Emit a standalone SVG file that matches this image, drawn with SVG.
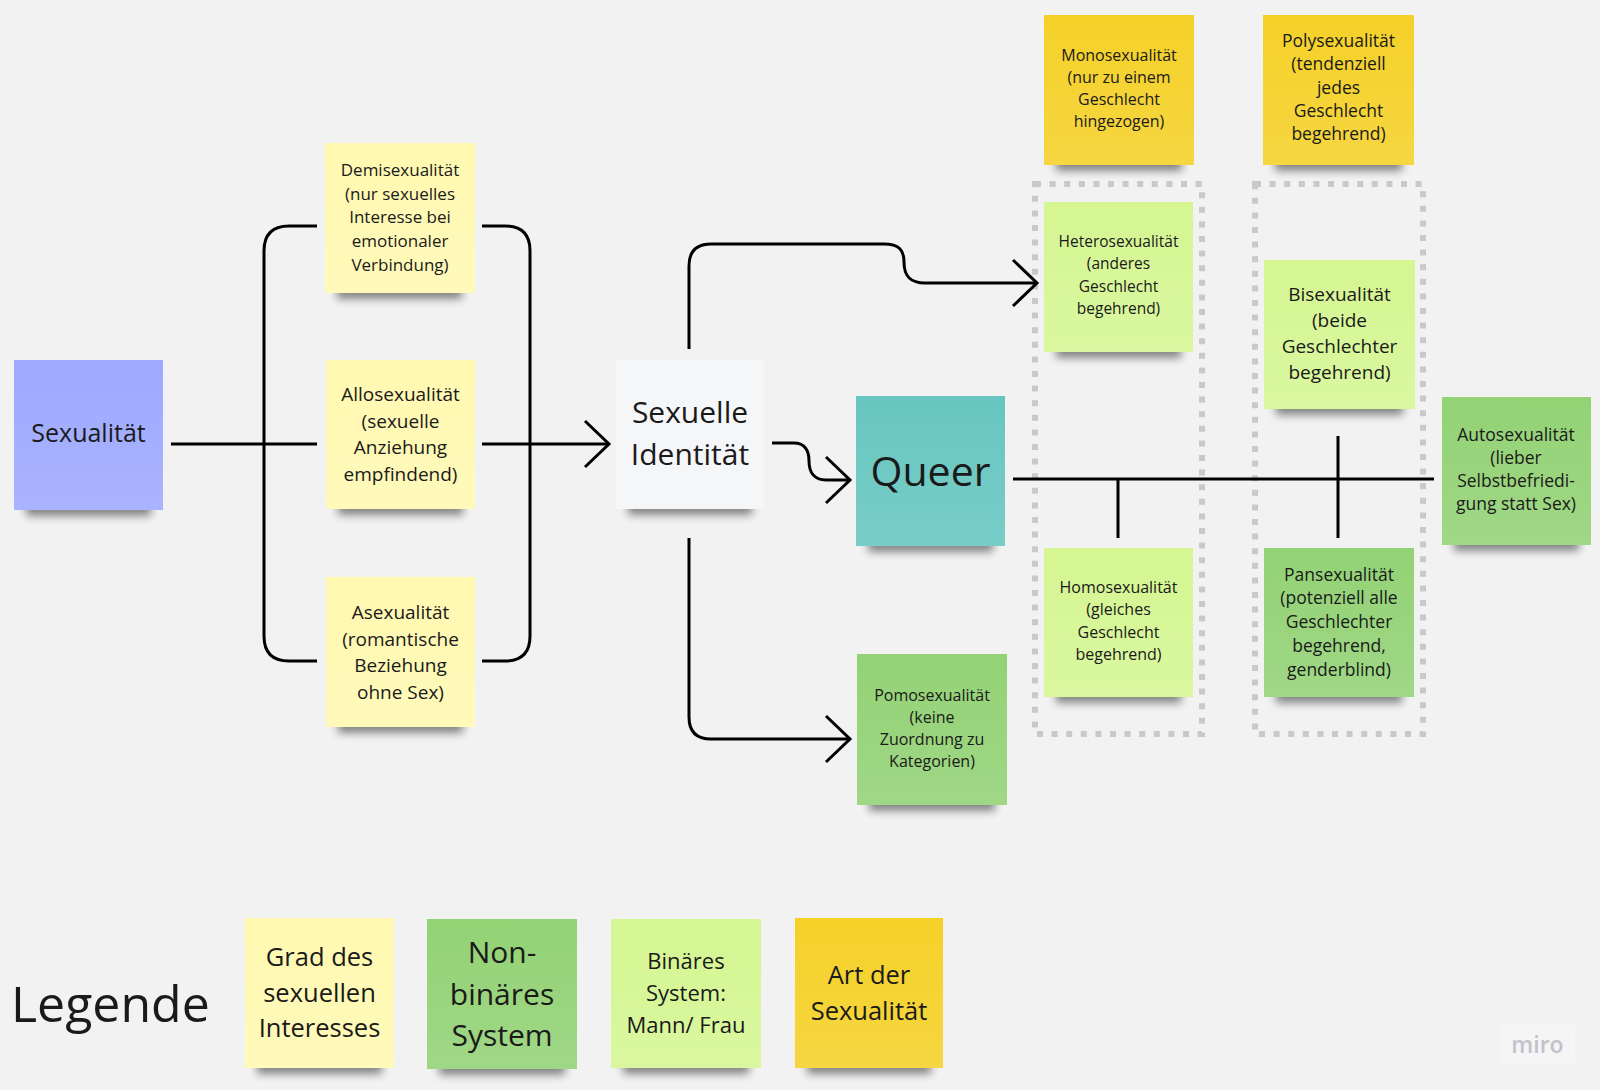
<svg xmlns="http://www.w3.org/2000/svg" width="1600" height="1090" viewBox="0 0 1600 1090">
<defs>
<filter id="blur" x="-20%" y="-100%" width="140%" height="300%"><feGaussianBlur stdDeviation="4"/></filter>
<linearGradient id="sheen" x1="0" y1="0" x2="0" y2="1"><stop offset="0" stop-color="#fff" stop-opacity="0"/><stop offset="1" stop-color="#fff" stop-opacity="0.12"/></linearGradient>
<marker id="arr" viewBox="0 0 30 50" refX="27" refY="25" markerWidth="30" markerHeight="50" markerUnits="userSpaceOnUse" orient="auto"><path d="M3,2 L27,25 L3,48" fill="none" stroke="#000" stroke-width="3"/></marker>
<style>
text{font-family:"Open Sans","Noto Sans","Liberation Sans",sans-serif;fill:#1a1a1a;text-anchor:middle}
.sh{fill:#000;opacity:0.45;filter:url(#blur)}
.gl{fill:url(#sheen)}
.ly{fill:#fff9b1}.yl{fill:#f5d128}.lg{fill:#d5f692}.dg{fill:#93d275}.db{fill:#9ea9ff}.gr{fill:#f5f6f8}.cy{fill:#67c6c0}
.c{fill:none;stroke:#000;stroke-width:3}
.dot{fill:none;stroke:#c9c9c9;stroke-width:6;stroke-dasharray:6 8.6}
</style>
</defs>
<rect width="1600" height="1090" fill="#f2f2f2"/>

<g id="containers">
<rect class="dot" x="1035" y="184" width="167" height="550"/>
<rect class="dot" x="1255" y="184" width="168" height="550"/>
</g>

<g id="connectors">
<path class="c" d="M171,444 H317"/>
<path class="c" d="M317,226 H289 Q264,226 264,251 V636 Q264,661 289,661 H317"/>
<path class="c" d="M482,226 H505 Q530,226 530,251 V636 Q530,661 505,661 H482"/>
<path class="c" d="M482,444 H609" marker-end="url(#arr)"/>
<path class="c" d="M689,349 V266 Q689,244 711,244 H884 C899,244 904,250 904,262 C904,276 910,283 925,283 H1037" marker-end="url(#arr)"/>
<path class="c" d="M772,443 H794 C805,443 809,451 809,461 C809,472 814,480 826,480 H850" marker-end="url(#arr)"/>
<path class="c" d="M689,538 V717 Q689,739 711,739 H850" marker-end="url(#arr)"/>
<path class="c" d="M1013,479 H1434"/>
<path class="c" d="M1118,479 V538"/>
<path class="c" d="M1338,436 V538"/>
</g>

<g id="sexualitaet">
<rect class="sh" x="26" y="498" width="125" height="18"/>
<rect class="db" x="14" y="360" width="149" height="150"/><rect class="gl" x="14" y="360" width="149" height="150"/>
<text x="88.5" y="442" font-size="25">Sexualität</text>
</g>

<g id="demisexualitaet">
<rect class="sh" x="337" y="281" width="125" height="18"/>
<rect class="ly" x="325" y="143" width="150" height="150"/><rect class="gl" x="325" y="143" width="150" height="150"/>
<text font-size="17"><tspan x="400" y="176">Demisexualität</tspan><tspan x="400" y="199.7">(nur sexuelles</tspan><tspan x="400" y="223.4">Interesse bei</tspan><tspan x="400" y="247.1">emotionaler</tspan><tspan x="400" y="270.8">Verbindung)</tspan></text>
</g>

<g id="allosexualitaet">
<rect class="sh" x="338" y="497" width="125" height="18"/>
<rect class="ly" x="326" y="360" width="149" height="149"/><rect class="gl" x="326" y="360" width="149" height="149"/>
<text font-size="19"><tspan x="400.5" y="401">Allosexualität</tspan><tspan x="400.5" y="427.5">(sexuelle</tspan><tspan x="400.5" y="454">Anziehung</tspan><tspan x="400.5" y="480.5">empfindend)</tspan></text>
</g>

<g id="asexualitaet">
<rect class="sh" x="338" y="715" width="125" height="18"/>
<rect class="ly" x="326" y="577" width="149" height="150"/><rect class="gl" x="326" y="577" width="149" height="150"/>
<text font-size="19"><tspan x="400.5" y="619">Asexualität</tspan><tspan x="400.5" y="645.5">(romantische</tspan><tspan x="400.5" y="672">Beziehung</tspan><tspan x="400.5" y="698.5">ohne Sex)</tspan></text>
</g>

<g id="sexuelle-identitaet">
<rect class="sh" x="628" y="497" width="124" height="18"/>
<rect class="gr" x="616" y="360" width="148" height="149"/>
<text font-size="30"><tspan x="690" y="423">Sexuelle</tspan><tspan x="690" y="465">Identität</tspan></text>
</g>

<g id="queer">
<rect class="sh" x="868" y="534" width="125" height="18"/>
<rect class="cy" x="856" y="396" width="149" height="150"/><rect class="gl" x="856" y="396" width="149" height="150"/>
<text x="930.5" y="486" font-size="41">Queer</text>
</g>

<g id="pomosexualitaet">
<rect class="sh" x="869" y="793" width="126" height="18"/>
<rect class="dg" x="857" y="654" width="150" height="151"/><rect class="gl" x="857" y="654" width="150" height="151"/>
<text font-size="16"><tspan x="932" y="701">Pomosexualität</tspan><tspan x="932" y="723">(keine</tspan><tspan x="932" y="745">Zuordnung zu</tspan><tspan x="932" y="767">Kategorien)</tspan></text>
</g>

<g id="monosexualitaet">
<rect class="sh" x="1056" y="153" width="126" height="18"/>
<rect class="yl" x="1044" y="15" width="150" height="150"/><rect class="gl" x="1044" y="15" width="150" height="150"/>
<text font-size="16"><tspan x="1119" y="60.5">Monosexualität</tspan><tspan x="1119" y="82.8">(nur zu einem</tspan><tspan x="1119" y="105.1">Geschlecht</tspan><tspan x="1119" y="127.4">hingezogen)</tspan></text>
</g>

<g id="polysexualitaet">
<rect class="sh" x="1275" y="153" width="127" height="18"/>
<rect class="yl" x="1263" y="15" width="151" height="150"/><rect class="gl" x="1263" y="15" width="151" height="150"/>
<text font-size="17.5"><tspan x="1338.5" y="47">Polysexualität</tspan><tspan x="1338.5" y="70.3">(tendenziell</tspan><tspan x="1338.5" y="93.6">jedes</tspan><tspan x="1338.5" y="116.9">Geschlecht</tspan><tspan x="1338.5" y="140.2">begehrend)</tspan></text>
</g>

<g id="heterosexualitaet">
<rect class="sh" x="1056" y="340" width="125" height="18"/>
<rect class="lg" x="1044" y="202" width="149" height="150"/><rect class="gl" x="1044" y="202" width="149" height="150"/>
<text font-size="15.5"><tspan x="1118.5" y="247">Heterosexualität</tspan><tspan x="1118.5" y="269.3">(anderes</tspan><tspan x="1118.5" y="291.6">Geschlecht</tspan><tspan x="1118.5" y="313.9">begehrend)</tspan></text>
</g>

<g id="bisexualitaet">
<rect class="sh" x="1276" y="397" width="127" height="18"/>
<rect class="lg" x="1264" y="260" width="151" height="149"/><rect class="gl" x="1264" y="260" width="151" height="149"/>
<text font-size="19"><tspan x="1339.5" y="300.5">Bisexualität</tspan><tspan x="1339.5" y="326.5">(beide</tspan><tspan x="1339.5" y="352.5">Geschlechter</tspan><tspan x="1339.5" y="378.5">begehrend)</tspan></text>
</g>

<g id="autosexualitaet">
<rect class="sh" x="1454" y="533" width="125" height="18"/>
<rect class="dg" x="1442" y="397" width="149" height="148"/><rect class="gl" x="1442" y="397" width="149" height="148"/>
<text font-size="17.5"><tspan x="1516" y="440.5">Autosexualität</tspan><tspan x="1516" y="463.8">(lieber</tspan><tspan x="1516" y="487.1">Selbstbefriedi-</tspan><tspan x="1516" y="510.4">gung statt Sex)</tspan></text>
</g>

<g id="homosexualitaet">
<rect class="sh" x="1056" y="685" width="125" height="18"/>
<rect class="lg" x="1044" y="548" width="149" height="149"/><rect class="gl" x="1044" y="548" width="149" height="149"/>
<text font-size="16"><tspan x="1118.5" y="593">Homosexualität</tspan><tspan x="1118.5" y="615.3">(gleiches</tspan><tspan x="1118.5" y="637.6">Geschlecht</tspan><tspan x="1118.5" y="659.9">begehrend)</tspan></text>
</g>

<g id="pansexualitaet">
<rect class="sh" x="1276" y="685" width="126" height="18"/>
<rect class="dg" x="1264" y="548" width="150" height="149"/><rect class="gl" x="1264" y="548" width="150" height="149"/>
<text font-size="17.5"><tspan x="1339" y="580.5">Pansexualität</tspan><tspan x="1339" y="604.3">(potenziell alle</tspan><tspan x="1339" y="628.1">Geschlechter</tspan><tspan x="1339" y="651.9">begehrend,</tspan><tspan x="1339" y="675.7">genderblind)</tspan></text>
</g>

<g id="legende">
<text x="11" y="1022" font-size="50" style="text-anchor:start">Legende</text>
</g>

<g id="legend-grad">
<rect class="sh" x="257" y="1056" width="125" height="18"/>
<rect class="ly" x="245" y="918" width="149" height="150"/><rect class="gl" x="245" y="918" width="149" height="150"/>
<text font-size="25.5"><tspan x="319.5" y="966">Grad des</tspan><tspan x="319.5" y="1001.5">sexuellen</tspan><tspan x="319.5" y="1037">Interesses</tspan></text>
</g>

<g id="legend-nonbinaer">
<rect class="sh" x="439" y="1057" width="126" height="18"/>
<rect class="dg" x="427" y="919" width="150" height="150"/><rect class="gl" x="427" y="919" width="150" height="150"/>
<text font-size="30"><tspan x="502" y="963">Non-</tspan><tspan x="502" y="1004.5">binäres</tspan><tspan x="502" y="1046">System</tspan></text>
</g>

<g id="legend-binaer">
<rect class="sh" x="623" y="1056" width="126" height="18"/>
<rect class="lg" x="611" y="919" width="150" height="149"/><rect class="gl" x="611" y="919" width="150" height="149"/>
<text font-size="22"><tspan x="686" y="969">Binäres</tspan><tspan x="686" y="1001">System:</tspan><tspan x="686" y="1033">Mann/ Frau</tspan></text>
</g>

<g id="legend-art">
<rect class="sh" x="807" y="1056" width="124" height="18"/>
<rect class="yl" x="795" y="918" width="148" height="150"/><rect class="gl" x="795" y="918" width="148" height="150"/>
<text font-size="25.5"><tspan x="869" y="984">Art der</tspan><tspan x="869" y="1019.5">Sexualität</tspan></text>
</g>

<g id="watermark">
<rect x="1500" y="1025" width="75" height="38" fill="#f5f5f5"/>
<text x="1537.5" y="1053" font-size="23" font-weight="600" style="fill:#c2c2cc">miro</text>
</g>
</svg>
